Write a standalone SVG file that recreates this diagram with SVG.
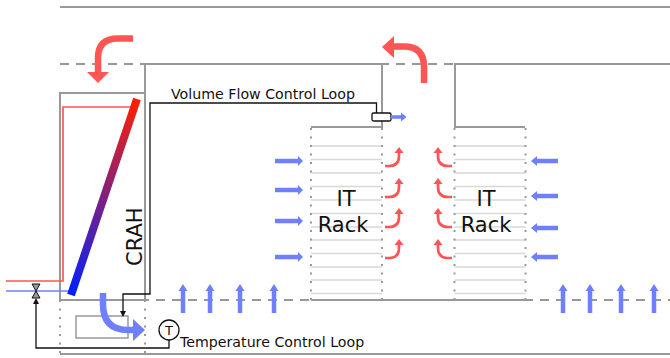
<svg xmlns="http://www.w3.org/2000/svg" xmlns:xlink="http://www.w3.org/1999/xlink" width="670" height="358" viewBox="0 0 670 358">
<style>
.wall{fill:none;stroke:#999;stroke-width:2}
.dash{fill:none;stroke:#999;stroke-width:2;stroke-dasharray:9 7}
.dot{fill:none;stroke:#999;stroke-width:2;stroke-dasharray:2 6.5}
.shelf{fill:none;stroke:#d8d8d8;stroke-width:1.5}
.ctl{fill:none;stroke:#111;stroke-width:1.3}
.lbl{font-family:"DejaVu Sans",sans-serif;fill:#111}
.big{font-size:21px;text-anchor:middle}
.small{font-size:14.2px}
.blue{fill:none;stroke:#6e80ff;stroke-width:4.500}
.red{fill:none;stroke:#ff5555;stroke-width:2.700}
.bluehead{fill:#6e80ff}
.redhead{fill:#ff5555}
</style>
<defs>
<linearGradient id="coil" gradientUnits="userSpaceOnUse" x1="72" y1="295" x2="137" y2="99">
<stop offset="0" stop-color="#0020ff"/><stop offset="1" stop-color="#ff2000"/>
</linearGradient>
<g id="hot-r"><path class="red" d="M0 0H4Q14 0 14 -10V-14"/><path class="redhead" d="M14 -19L18.500 -13H9.500Z"/></g>
<g id="hot-l"><path class="red" d="M0 0H-4Q-14 0 -14 -10V-14"/><path class="redhead" d="M-14 -19L-9.500 -13H-18.500Z"/></g>
<g id="cold-e"><path class="blue" d="M0 0H24"/><path class="bluehead" d="M28 0L23 -5V5Z"/></g>
<g id="cold-w"><path class="blue" d="M0 0H-22"/><path class="bluehead" d="M-27 0L-21 -5V5Z"/></g>
<g id="cold-n"><path class="blue" d="M0 0V-24"/><path class="bluehead" d="M0 -29L4.500 -22H-4.500Z"/></g>
<g id="shelves">
<path class="shelf" d="M0 146H71M0 159.500H71M0 173H71M0 186.500H71M0 200H71M0 213.500H71M0 227H71M0 240H71M0 253.500H71M0 267H71M0 280H71M0 293.500H71"/>
<path class="dot" d="M0 128V300M71 128V300"/>
</g>
</defs>

<g id="room">
<path class="wall" d="M60 7H670"/>
<path class="dash" d="M60 64H670"/>
<path class="dash" d="M60 300H670"/>
<path class="wall" d="M60 354H670"/>
<path class="dot" d="M60 300V354M145 300V354"/>
</g>

<g id="ducts">
<path class="wall" d="M311 127H382V64H145V300"/>
<path class="wall" d="M525 127H455V64H670"/>
<path class="wall" d="M311 300H525"/>
</g>

<g id="crah">
<rect class="wall" x="60" y="93" width="85" height="207"/>
<path fill="none" stroke="#ff5555" stroke-width="1.700" d="M6 281H63V107H133"/>
<path fill="none" stroke="#6e80ff" stroke-width="1.700" d="M6 291H70"/>
<path fill="none" stroke="url(#coil)" stroke-width="8" d="M71 295L137 99"/>
<text class="lbl" font-size="21" transform="translate(142 266) rotate(-90)">CRAH</text>
</g>

<g id="fan">
<rect x="76" y="316" width="52" height="22" fill="none" stroke="#999" stroke-width="1.500"/>
</g>

<g id="rack-left">
<use xlink:href="#shelves" x="311"/>
<text class="lbl big" x="346" y="206">IT</text>
<text class="lbl big" x="343" y="232">Rack</text>
</g>

<g id="rack-right">
<use xlink:href="#shelves" x="454.500"/>
<text class="lbl big" x="486" y="206">IT</text>
<text class="lbl big" x="486" y="232">Rack</text>
</g>

<g id="valve">
<path d="M32 284H40L36 291Z" fill="#999" stroke="#111" stroke-width="1"/>
<path d="M32 298H40L36 291Z" fill="#999" stroke="#111" stroke-width="1"/>
</g>

<g id="damper">
<rect x="372" y="113" width="19" height="8" rx="1.500" fill="#fff" stroke="#111" stroke-width="1.300"/>
</g>

<g id="sensor">
<circle cx="169" cy="330" r="10" fill="#fff" stroke="#111" stroke-width="1.300"/>
<text class="lbl" font-size="13" text-anchor="middle" x="169" y="335">T</text>
</g>

<g id="connectors">
<path class="ctl" d="M376.500 113V103H150V294H123V313"/>
<path fill="#111" d="M123 317L120 311H126Z"/>
<path class="ctl" d="M169 340V348H36V304"/>
<path fill="#111" d="M36 298L33 304H39Z"/>
</g>

<g id="airflow">
<path fill="none" stroke="#ff5555" stroke-width="6.500" d="M133 38.500H118Q98 38.500 98 58V73"/>
<path class="redhead" d="M98 83L87 72H109Z"/>
<path fill="none" stroke="#ff5555" stroke-width="6.500" d="M424 83V67Q424 46.500 404 46.500H393"/>
<path class="redhead" d="M382 47L394 36V58Z"/>
<path fill="none" stroke="#6e80ff" stroke-width="6.500" d="M103 293V304Q103 330 128 330H134"/>
<path class="bluehead" d="M145 330L133 319V341Z"/>
<path fill="none" stroke="#6e80ff" stroke-width="3.500" d="M391 117H402"/>
<path class="bluehead" d="M406.500 117L401 112.500V121.500Z"/>
<use xlink:href="#cold-e" x="275" y="161"/>
<use xlink:href="#cold-e" x="275" y="190"/>
<use xlink:href="#cold-e" x="275" y="221"/>
<use xlink:href="#cold-e" x="275" y="257"/>
<use xlink:href="#cold-w" x="558" y="161"/>
<use xlink:href="#cold-w" x="558" y="196"/>
<use xlink:href="#cold-w" x="558" y="228"/>
<use xlink:href="#cold-w" x="558" y="257"/>
<use xlink:href="#cold-n" x="183" y="313"/>
<use xlink:href="#cold-n" x="210" y="313"/>
<use xlink:href="#cold-n" x="240" y="313"/>
<use xlink:href="#cold-n" x="274" y="313"/>
<use xlink:href="#cold-n" x="563" y="313"/>
<use xlink:href="#cold-n" x="590" y="313"/>
<use xlink:href="#cold-n" x="621" y="313"/>
<use xlink:href="#cold-n" x="654" y="313"/>
<use xlink:href="#hot-r" x="385" y="166"/>
<use xlink:href="#hot-r" x="385" y="197"/>
<use xlink:href="#hot-r" x="385" y="227"/>
<use xlink:href="#hot-r" x="385" y="258"/>
<use xlink:href="#hot-l" x="452" y="166"/>
<use xlink:href="#hot-l" x="452" y="197"/>
<use xlink:href="#hot-l" x="452" y="227"/>
<use xlink:href="#hot-l" x="452" y="258"/>
</g>

<g id="labels">
<text class="lbl small" x="171" y="99">Volume Flow Control Loop</text>
<text class="lbl small" x="180" y="347">Temperature Control Loop</text>
</g>
</svg>
